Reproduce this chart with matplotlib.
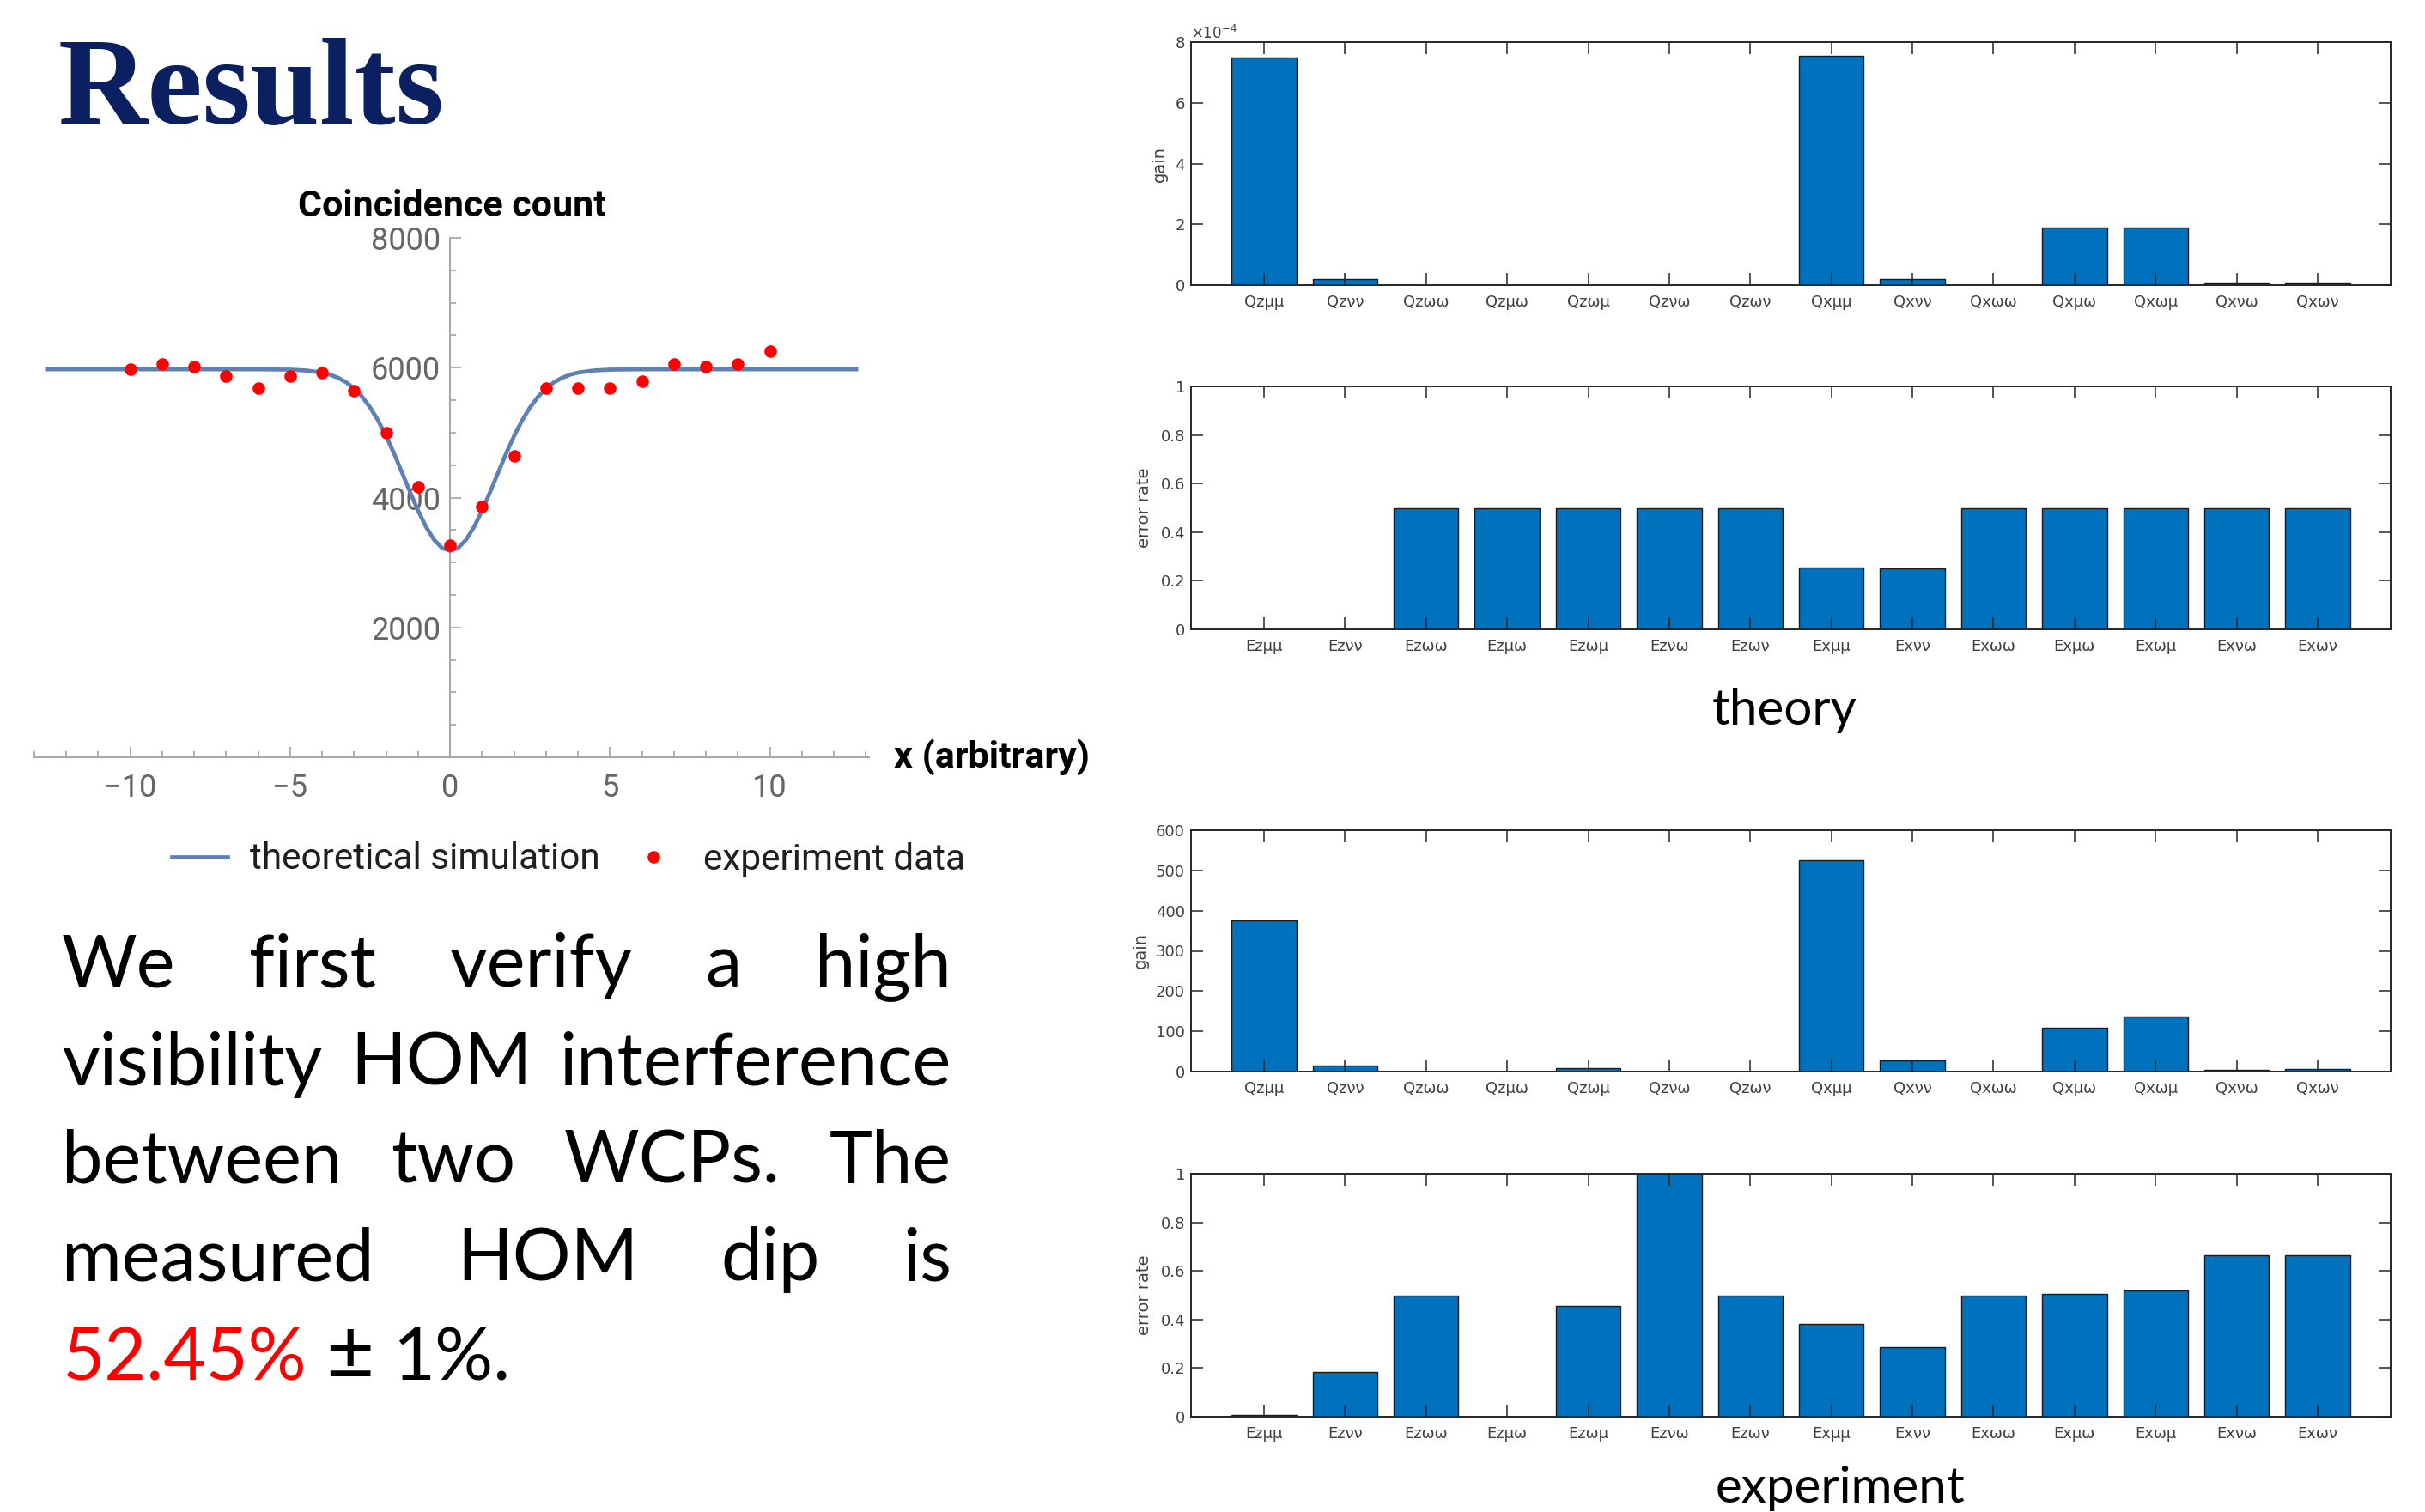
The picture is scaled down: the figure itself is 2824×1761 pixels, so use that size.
import numpy as np
import matplotlib
matplotlib.use("Agg")
import matplotlib.pyplot as plt
from matplotlib.ticker import MultipleLocator, ScalarFormatter
from matplotlib.lines import Line2D

W, H, DPI = 2824, 1761, 100

# ---------------- data ----------------
hom_x = [-10, -9, -8, -7, -6, -5, -4, -3, -2, -1, 0, 1, 2, 3, 4, 5, 6, 7, 8, 9, 10]
hom_counts = [5980, 6060, 6015, 5875, 5690, 5875, 5930, 5650, 5000, 4165, 3270,
              3865, 4640, 5690, 5690, 5690, 5790, 6060, 6015, 6060, 6250]

sim_x = [-12.6, -6, -5, -4.5, -4, -3.75, -3.5, -3.25, -3, -2.75, -2.5, -2.25, -2,
         -1.75, -1.5, -1.25, -1, -0.75, -0.5, -0.25, 0,
         0.25, 0.5, 0.75, 1, 1.25, 1.5, 1.75, 2, 2.25, 2.5, 2.75, 3,
         3.25, 3.5, 3.75, 4, 4.5, 5, 6, 12.7]
sim_counts = [5975, 5975, 5970, 5957, 5924, 5892, 5844, 5776, 5680, 5553, 5389, 5187, 4947,
              4675, 4382, 4084, 3798, 3547, 3349, 3223, 3180,
              3223, 3349, 3547, 3798, 4084, 4382, 4675, 4947, 5187, 5389, 5553, 5680,
              5776, 5844, 5892, 5924, 5957, 5970, 5975, 5975]

q_labels = ["Qzμμ", "Qzνν", "Qzωω", "Qzμω", "Qzωμ", "Qzνω", "Qzων",
            "Qxμμ", "Qxνν", "Qxωω", "Qxμω", "Qxωμ", "Qxνω", "Qxων"]
e_labels = ["Ezμμ", "Ezνν", "Ezωω", "Ezμω", "Ezωμ", "Ezνω", "Ezων",
            "Exμμ", "Exνν", "Exωω", "Exμω", "Exωμ", "Exνω", "Exων"]

gain_theory = [7.50e-4, 0.21e-4, 0, 0, 0, 0, 0,
               7.55e-4, 0.21e-4, 0, 1.90e-4, 1.90e-4, 0.06e-4, 0.06e-4]
err_theory = [0, 0, 0.5, 0.5, 0.5, 0.5, 0.5, 0.254, 0.25, 0.5, 0.5, 0.5, 0.5, 0.5]
gain_exp = [375, 15, 0, 0, 9, 0, 0, 525, 27, 0, 108, 137, 3.5, 6]
err_exp = [0.006, 0.183, 0.499, 0, 0.456, 1.0, 0.5, 0.383, 0.285,
           0.5, 0.504, 0.518, 0.664, 0.664]

para_lines = [["We", "first", "verify", "a", "high"],
              ["visibility", "HOM", "interference"],
              ["between", "two", "WCPs.", "The"],
              ["measured", "HOM", "dip", "is"]]

# ---------------- figure ----------------
fig = plt.figure(figsize=(W / DPI, H / DPI), dpi=DPI)
fig.patch.set_facecolor("white")


def rect(x0, y0, x1, y1):
    return [x0 / W, 1 - y1 / H, (x1 - x0) / W, (y1 - y0) / H]


def fx(x):
    return x / W


def fy(y):
    return 1 - y / H


# title
fig.text(fx(68), fy(144), "Results", family="Liberation Serif", weight="bold",
         fontsize=104, color="#0a2060", ha="left", va="baseline")

# ---------------- HOM plot ----------------
AX_GRAY = "#a8a8a8"
LBL_GRAY = "#666666"
ax = fig.add_axes(rect(40, 277, 1012, 882))
ax.plot(sim_x, sim_counts, color="#5e81b5", lw=3.4, zorder=3,
        label="theoretical simulation", solid_joinstyle="round")
ax.plot(hom_x, hom_counts, "o", color="#ff0000", ms=10.5, mec="none", zorder=4,
        label="experiment data")
ax.set_xlim(-13.0, 13.1)
ax.set_ylim(0, 8000)
for s in ["top", "right"]:
    ax.spines[s].set_visible(False)
ax.spines["left"].set_position(("data", 0))
ax.spines["bottom"].set_position(("data", 0))
for s in ["left", "bottom"]:
    ax.spines[s].set_color(AX_GRAY)
    ax.spines[s].set_linewidth(1.5)
ax.xaxis.set_major_locator(MultipleLocator(5))
ax.xaxis.set_minor_locator(MultipleLocator(1))
ax.yaxis.set_minor_locator(MultipleLocator(500))
ax.set_yticks([2000, 4000, 6000, 8000])
ax.tick_params(which="both", direction="in", color=AX_GRAY, width=1.3)
ax.tick_params(which="major", length=9)
ax.tick_params(which="minor", length=5)
ax.tick_params(axis="x", which="major", labelsize=26, labelcolor=LBL_GRAY, pad=13)
ax.tick_params(axis="y", which="major", labelsize=26, labelcolor=LBL_GRAY, pad=8)
for t in ax.get_xticklabels() + ax.get_yticklabels():
    t.set_family("Roboto")
ax.xaxis.set_major_formatter(matplotlib.ticker.FuncFormatter(
    lambda v, p: ("\u2212%d" % abs(v)) if v < 0 else "%d" % v))
ax.patch.set_alpha(0)
ax.set_title("Coincidence count", family="Roboto", weight="bold", fontsize=31,
             pad=18, color="black")
fig.text(fx(1041), fy(882), "x (arbitrary)", family="Roboto", weight="bold",
         fontsize=31, ha="left", va="center", color="black")

handles = [Line2D([], [], color="#5e81b5", lw=3.4),
           Line2D([], [], ls="none", marker="o", color="#ff0000", ms=10.5, mec="none")]
leg = fig.legend(handles, ["theoretical simulation", "experiment data"],
                 loc="center", bbox_to_anchor=(fx(662), fy(1001)), ncol=2,
                 frameon=False, prop={"family": "Roboto", "size": 30.5},
                 handlelength=1.55, handletextpad=0.6, columnspacing=0.7)
for t in leg.get_texts():
    t.set_color("#1f1f1f")

# ---------------- paragraph ----------------
renderer = fig.canvas.get_renderer()
PF = 61
PFAM = "Lato"
X0, X1 = 72, 1108
baselines = [1149, 1264, 1378, 1491, 1607]
for words, base in zip(para_lines, baselines):
    texts = [fig.text(0, 0, w, fontsize=PF, family=PFAM, ha="left", va="baseline")
             for w in words]
    widths = [t.get_window_extent(renderer).width for t in texts]
    gap = (X1 - X0 - sum(widths)) / (len(words) - 1)
    x = X0
    for t, w in zip(texts, widths):
        t.set_position((fx(x), fy(base)))
        x += w + gap

space = 0.26 * PF * DPI / 72
x = X0
for txt, col, sz in [("52.45%", "#ff0000", PF), ("±", "black", PF * 1.15), ("1%.", "black", PF)]:
    t = fig.text(fx(x), fy(baselines[4]), txt, fontsize=sz, family=PFAM,
                 color=col, ha="left", va="baseline")
    x += t.get_window_extent(renderer).width + space

# ---------------- bar panels ----------------
BAR_BLUE = "#0072bd"
DARK = "#262626"
TL = "#404040"


def bar_panel(r, labels, values, ylim, yticks, ylabel, label_x, sci=False):
    a = fig.add_axes(r)
    xs = np.arange(1, len(values) + 1)
    a.bar(xs, values, width=0.8, color=BAR_BLUE, edgecolor="#1a1a1a", linewidth=1.0)
    a.set_xlim(0.1, 14.9)
    a.set_ylim(*ylim)
    a.set_xticks(xs)
    a.set_xticklabels(labels)
    a.set_yticks(yticks)
    if sci:
        fmt = ScalarFormatter(useMathText=True)
        fmt.set_powerlimits((0, 0))
        a.yaxis.set_major_formatter(fmt)
        a.yaxis.get_offset_text().set_fontsize(12)
        a.yaxis.get_offset_text().set_color(TL)
    else:
        a.yaxis.set_major_formatter(matplotlib.ticker.FuncFormatter(
            lambda v, p: ("%g" % round(v, 3))))
    a.tick_params(direction="in", top=True, right=True, length=10, width=1.1,
                  color=DARK, labelcolor=TL, labelsize=13)
    a.tick_params(axis="x", pad=8)
    a.tick_params(axis="y", pad=5)
    for s in a.spines.values():
        s.set_color(DARK)
        s.set_linewidth(1.4)
    a.set_ylabel(ylabel, fontsize=14, color=TL, va="center")
    a.yaxis.set_label_coords(label_x, 0.5)
    return a


bar_panel(rect(1387, 49, 2784, 332), q_labels, gain_theory, (0, 8e-4),
          [0, 2e-4, 4e-4, 6e-4, 8e-4], "gain", -0.026, sci=True)
bar_panel(rect(1387, 450, 2784, 733), e_labels, err_theory, (0, 1),
          [0, 0.2, 0.4, 0.6, 0.8, 1], "error rate", -0.039)
bar_panel(rect(1387, 967, 2784, 1248), q_labels, gain_exp, (0, 600),
          [0, 100, 200, 300, 400, 500, 600], "gain", -0.042)
bar_panel(rect(1387, 1367, 2784, 1650), e_labels, err_exp, (0, 1),
          [0, 0.2, 0.4, 0.6, 0.8, 1], "error rate", -0.039)

fig.text(fx(2078), fy(828), "theory", family=PFAM, fontsize=42, ha="center",
         va="center", color="black")
fig.text(fx(2143), fy(1734), "experiment", family=PFAM, fontsize=42, ha="center",
         va="center", color="black")

fig.savefig("out.png", dpi=DPI, facecolor="white")
